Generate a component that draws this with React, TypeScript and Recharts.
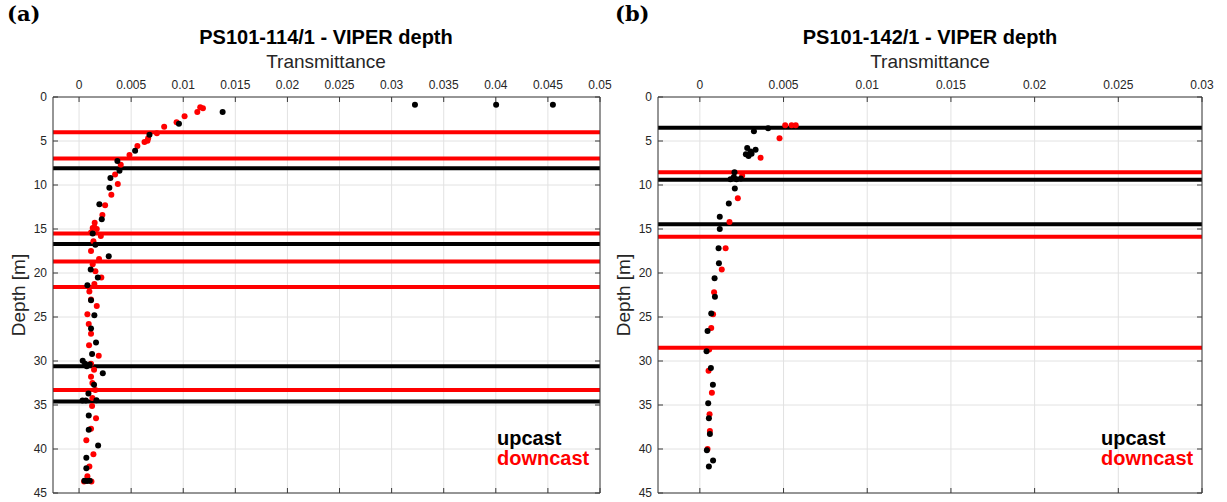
import React from 'react';
import {
  ScatterChart, Scatter, XAxis, YAxis, CartesianGrid, ReferenceLine,
} from 'recharts';

// ---------- Panel (a): PS101-114/1 ----------
const A_TITLE = 'PS101-114/1 - VIPER depth';
const A_X_TICKS = [0, 0.005, 0.01, 0.015, 0.02, 0.025, 0.03, 0.035, 0.04, 0.045, 0.05];
const A_X_DOMAIN = [-0.0025, 0.05];

const A_UP_DEPTH = [0.87, 0.87, 0.87, 1.7, 3.03, 4.28, 6.1, 7.27, 8.37, 9.2, 10.3, 12.2, 13.9, 15.5, 16.8, 18.1, 19.6, 20.5, 21.4, 23.1, 24.8, 26.3, 27.9, 29.2, 29.97, 30.3, 30.4, 30.6, 31.4, 32.7, 33.7, 34.5, 34.5, 34.45, 36.2, 37.8, 39.6, 41.0, 42.2, 43.6, 43.65, 43.6];
const A_UP_T = [0.03224, 0.04003, 0.04548, 0.01378, 0.00959, 0.00676, 0.00538, 0.00368, 0.00388, 0.00301, 0.00291, 0.00195, 0.00218, 0.00131, 0.00157, 0.00285, 0.00112, 0.0018, 0.0008, 0.00115, 0.00147, 0.00115, 0.00163, 0.00125, 0.00035, 0.00058, 0.00102, 0.00074, 0.00228, 0.00144, 0.0009, 0.00033, 0.00065, 0.00167, 0.00093, 0.00093, 0.00183, 0.0007, 0.0007, 0.00052, 0.00077, 0.00103];

const A_DOWN_DEPTH = [1.17, 1.29, 1.7, 2.2, 2.88, 3.37, 4.13, 4.7, 4.96, 5.1, 5.57, 6.6, 7.7, 8.8, 9.9, 11.1, 12.3, 13.4, 14.3, 14.8, 14.9, 15.0, 15.4, 15.8, 16.4, 17.5, 18.4, 19.0, 19.8, 20.5, 21.25, 22.1, 23.0, 23.75, 24.7, 25.8, 26.9, 28.2, 29.4, 30.3, 31.0, 31.8, 32.5, 33.3, 34.2, 35.1, 36.5, 37.7, 39.0, 40.6, 42.0, 43.1, 43.7, 43.7];
const A_DOWN_T = [0.01163, 0.01189, 0.01135, 0.01013, 0.00936, 0.00817, 0.00747, 0.00663, 0.00657, 0.00628, 0.0056, 0.00484, 0.004, 0.00346, 0.00372, 0.0031, 0.0025, 0.00224, 0.0015, 0.00147, 0.00131, 0.0017, 0.00115, 0.00209, 0.00138, 0.00115, 0.00192, 0.00131, 0.00157, 0.00214, 0.00147, 0.00099, 0.00115, 0.0017, 0.0008, 0.00093, 0.00115, 0.00096, 0.00189, 0.00115, 0.00144, 0.00115, 0.00128, 0.00157, 0.00128, 0.00125, 0.00163, 0.00115, 0.0007, 0.00138, 0.00099, 0.0008, 0.00048, 0.00119];

const A_UP_LINES = [8.1, 16.7, 30.6, 34.6];
const A_DOWN_LINES = [4.0, 7.0, 15.5, 18.7, 21.6, 33.3];

// ---------- Panel (b): PS101-142/1 ----------
const B_TITLE = 'PS101-142/1 - VIPER depth';
const B_X_TICKS = [0, 0.005, 0.01, 0.015, 0.02, 0.025, 0.03];
const B_X_DOMAIN = [-0.0025, 0.03];

const B_UP_DEPTH = [3.56, 3.9, 5.8, 6.0, 6.2, 6.5, 6.7, 6.45, 8.55, 9.1, 9.35, 9.35, 9.25, 10.4, 12.1, 13.6, 15.0, 17.2, 18.9, 20.6, 22.7, 24.6, 26.6, 28.9, 30.8, 32.7, 34.8, 36.5, 38.3, 40.15, 41.3, 42.0];
const B_UP_T = [0.00408, 0.00323, 0.00283, 0.00333, 0.00303, 0.00275, 0.00291, 0.00309, 0.00207, 0.00203, 0.00219, 0.00183, 0.00245, 0.00209, 0.00173, 0.00119, 0.00119, 0.00112, 0.00114, 0.00088, 0.0009, 0.00068, 0.00046, 0.0004, 0.00066, 0.00078, 0.0005, 0.00054, 0.0006, 0.00042, 0.00079, 0.00054];

const B_DOWN_DEPTH = [3.2, 3.2, 3.2, 4.7, 6.9, 8.95, 11.5, 14.2, 17.2, 19.6, 22.2, 24.7, 26.25, 28.7, 31.1, 33.6, 36.05, 37.95, 40.0];
const B_DOWN_T = [0.0051, 0.00548, 0.00573, 0.00476, 0.00363, 0.00253, 0.00227, 0.00177, 0.00154, 0.00131, 0.00085, 0.00079, 0.00068, 0.00056, 0.00052, 0.00072, 0.00058, 0.0006, 0.00046];

const B_UP_LINES = [3.5, 9.4, 14.47];
const B_DOWN_LINES = [8.56, 15.87, 28.5];

// ---------- shared ----------
const Y_TICKS = [0, 5, 10, 15, 20, 25, 30, 35, 40, 45];
const Y_DOMAIN = [0, 45];
const X_LABEL = 'Transmittance';
const Y_LABEL = 'Depth [m]';
const LEGEND_UP = 'upcast';
const LEGEND_DOWN = 'downcast';

const SANS = "'Liberation Sans', Arial, Helvetica, sans-serif";
const TEXT_COLOR = '#262626';
const AXIS_COLOR = '#3a3a3a';
const GRID_COLOR = '#e2e2e2';

const zip = (depth: number[], t: number[]) => depth.map((d, i) => ({ depth: d, t: t[i] }));

const TopTick = (props: any) => {
  const { x, y, payload } = props;
  return (
    <g>
      <text x={x} y={y} textAnchor="middle" fontSize={12} fill={TEXT_COLOR} fontFamily={SANS}>
        {String(payload.value)}
      </text>
      <line x1={x} x2={x} y1={y + 8} y2={y + 13} stroke={AXIS_COLOR} strokeWidth={1} />
    </g>
  );
};

const LeftTick = (props: any) => {
  const { x, y, payload } = props;
  return (
    <g>
      <text x={x} y={y} textAnchor="end" dominantBaseline="central" fontSize={12} fill={TEXT_COLOR} fontFamily={SANS}>
        {String(payload.value)}
      </text>
      <line x1={x + 6} x2={x + 11} y1={y} y2={y} stroke={AXIS_COLOR} strokeWidth={1} />
    </g>
  );
};

const dot = (color: string) => (props: any) => (
  <circle cx={props.cx} cy={props.cy} r={3} fill={color} />
);

type PanelProps = {
  left: number;
  width: number;
  rightMargin: number;
  xTicks: number[];
  xDomain: number[];
  up: { depth: number; t: number }[];
  down: { depth: number; t: number }[];
  upLines: number[];
  downLines: number[];
};

const Panel = ({ left, width, rightMargin, xTicks, xDomain, up, down, upLines, downLines }: PanelProps) => (
  <div style={{ position: 'absolute', left, top: 0 }}>
    <ScatterChart width={width} height={502} margin={{ top: 77, right: rightMargin, bottom: 9, left: 0 }}>
      <CartesianGrid stroke={GRID_COLOR} strokeWidth={1} />
      <XAxis
        type="number"
        dataKey="t"
        orientation="top"
        domain={xDomain}
        ticks={xTicks}
        interval={0}
        allowDataOverflow
        height={20}
        tickSize={0}
        tickMargin={8}
        tickLine={false}
        axisLine={{ stroke: AXIS_COLOR }}
        tick={<TopTick />}
      />
      <XAxis
        xAxisId="b"
        type="number"
        dataKey="t"
        orientation="bottom"
        mirror
        domain={xDomain}
        ticks={xTicks}
        interval={0}
        allowDataOverflow
        height={20}
        tickSize={5}
        tickLine={{ stroke: AXIS_COLOR }}
        axisLine={{ stroke: AXIS_COLOR }}
        tickFormatter={() => ''}
      />
      <YAxis
        type="number"
        dataKey="depth"
        reversed
        domain={Y_DOMAIN}
        ticks={Y_TICKS}
        interval={0}
        allowDataOverflow
        width={53}
        tickSize={0}
        tickMargin={6}
        tickLine={false}
        axisLine={{ stroke: AXIS_COLOR }}
        tick={<LeftTick />}
      />
      <YAxis
        yAxisId="r"
        type="number"
        dataKey="depth"
        orientation="right"
        mirror
        reversed
        domain={Y_DOMAIN}
        ticks={Y_TICKS}
        interval={0}
        allowDataOverflow
        width={20}
        tickSize={5}
        tickLine={{ stroke: AXIS_COLOR }}
        axisLine={{ stroke: AXIS_COLOR }}
        tickFormatter={() => ''}
      />
      {downLines.map((v) => (
        <ReferenceLine key={'d' + v} y={v} stroke="#ff0000" strokeWidth={4} />
      ))}
      {upLines.map((v) => (
        <ReferenceLine key={'u' + v} y={v} stroke="#000000" strokeWidth={4} />
      ))}
      <Scatter name={LEGEND_DOWN} data={down} fill="#ff0000" shape={dot('#ff0000')} isAnimationActive={false} />
      <Scatter name={LEGEND_UP} data={up} fill="#000000" shape={dot('#000000')} isAnimationActive={false} />
    </ScatterChart>
  </div>
);

const absText = (style: React.CSSProperties, text: string) => (
  <div style={{ position: 'absolute', whiteSpace: 'nowrap', lineHeight: 1, ...style }}>{text}</div>
);

export default function App() {
  return (
    <div style={{ position: 'absolute', left: 0, top: 0, width: 1227, height: 502, background: '#fff', overflow: 'hidden' }}>
      <Panel
        left={0}
        width={620}
        rightMargin={20}
        xTicks={A_X_TICKS}
        xDomain={A_X_DOMAIN}
        up={zip(A_UP_DEPTH, A_UP_T)}
        down={zip(A_DOWN_DEPTH, A_DOWN_T)}
        upLines={A_UP_LINES}
        downLines={A_DOWN_LINES}
      />
      <Panel
        left={605}
        width={620}
        rightMargin={23}
        xTicks={B_X_TICKS}
        xDomain={B_X_DOMAIN}
        up={zip(B_UP_DEPTH, B_UP_T)}
        down={zip(B_DOWN_DEPTH, B_DOWN_T)}
        upLines={B_UP_LINES}
        downLines={B_DOWN_LINES}
      />

      {absText({ left: 7, top: 3, fontFamily: "'DejaVu Serif', serif", fontWeight: 'bold', fontSize: 21 }, '(a)')}
      {absText({ left: 615, top: 3, fontFamily: "'DejaVu Serif', serif", fontWeight: 'bold', fontSize: 21 }, '(b)')}

      {absText({ left: 326, top: 27, transform: 'translateX(-50%)', fontFamily: SANS, fontWeight: 'bold', fontSize: 20, color: '#000' }, A_TITLE)}
      {absText({ left: 930, top: 27, transform: 'translateX(-50%)', fontFamily: SANS, fontWeight: 'bold', fontSize: 20, color: '#000' }, B_TITLE)}

      {absText({ left: 326, top: 52, transform: 'translateX(-50%)', fontFamily: SANS, fontSize: 19, color: TEXT_COLOR }, X_LABEL)}
      {absText({ left: 930, top: 52, transform: 'translateX(-50%)', fontFamily: SANS, fontSize: 19, color: TEXT_COLOR }, X_LABEL)}

      {absText({ left: 18, top: 295, transform: 'translate(-50%, -50%) rotate(-90deg)', fontFamily: SANS, fontSize: 19, color: TEXT_COLOR }, Y_LABEL)}
      {absText({ left: 623, top: 295, transform: 'translate(-50%, -50%) rotate(-90deg)', fontFamily: SANS, fontSize: 19, color: TEXT_COLOR }, Y_LABEL)}

      {absText({ left: 497, top: 428, fontFamily: SANS, fontWeight: 'bold', fontSize: 20, color: '#000' }, LEGEND_UP)}
      {absText({ left: 497, top: 448, fontFamily: SANS, fontWeight: 'bold', fontSize: 20, color: '#ff0000' }, LEGEND_DOWN)}
      {absText({ left: 1101, top: 428, fontFamily: SANS, fontWeight: 'bold', fontSize: 20, color: '#000' }, LEGEND_UP)}
      {absText({ left: 1101, top: 448, fontFamily: SANS, fontWeight: 'bold', fontSize: 20, color: '#ff0000' }, LEGEND_DOWN)}
    </div>
  );
}
